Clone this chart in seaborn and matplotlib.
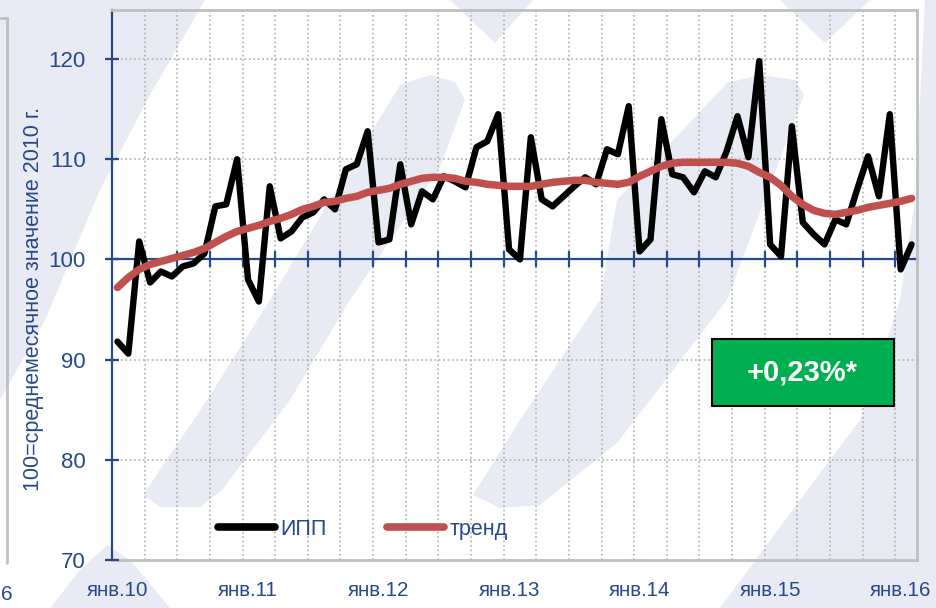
import numpy as np
import pandas as pd
import matplotlib
matplotlib.use('Agg')
import matplotlib.pyplot as plt
import seaborn as sns
from matplotlib.patches import Polygon, Rectangle
from matplotlib.lines import Line2D

# monthly data, Jan 2010 .. Feb 2016
ipp = [91.8, 90.6, 101.8, 97.7, 98.8, 98.3, 99.3, 99.6, 100.6, 105.3, 105.5, 110.0,
       98.0, 95.8, 107.3, 102.1, 102.8, 104.2, 104.7, 106.0, 105.0, 109.0, 109.5, 112.8,
       101.7, 102.0, 109.5, 103.5, 106.8, 106.0, 108.3, 107.8, 107.2, 111.2, 111.8, 114.5,
       101.0, 100.0, 112.2, 106.0, 105.3, 106.3, 107.3, 108.2, 107.5, 111.0, 110.5, 115.3,
       100.8, 102.0, 114.0, 108.5, 108.2, 106.7, 108.8, 108.2, 110.8, 114.3, 110.2, 119.8,
       101.5, 100.3, 113.3, 103.7, 102.5, 101.5, 104.0, 103.5, 107.0, 110.3, 106.3, 114.5,
       99.0, 101.5]
trend = [97.2, 98.2, 99.0, 99.5, 99.8, 100.1, 100.4, 100.7, 101.1, 101.7, 102.3, 102.8,
         103.1, 103.4, 103.8, 104.1, 104.5, 105.0, 105.3, 105.7, 105.8, 106.1, 106.3, 106.7,
         106.9, 107.1, 107.5, 107.8, 108.1, 108.2, 108.2, 108.1, 107.8, 107.7, 107.5, 107.4,
         107.3, 107.3, 107.3, 107.5, 107.7, 107.8, 107.9, 107.9, 107.7, 107.6, 107.5, 107.7,
         108.3, 108.8, 109.3, 109.6, 109.7, 109.7, 109.7, 109.7, 109.7, 109.6, 109.3, 108.7,
         108.2, 107.4, 106.3, 105.5, 104.9, 104.6, 104.5, 104.7, 104.9, 105.2, 105.4, 105.6,
         105.8, 106.1]
year_labels = ['янв.10', 'янв.11', 'янв.12', 'янв.13', 'янв.14', 'янв.15', 'янв.16']
y_ticks = [70, 80, 90, 100, 110, 120]

BLUE = '#26498a'
RED = '#c0504d'
GREEN = '#00b050'
GRID = '#b0b0b0'
FRAME = '#c0c0c0'
LAV = '#e8ebf4'

sns.set_theme(style='white')
plt.rcParams['font.family'] = ['Liberation Sans', 'DejaVu Sans']

W, H = 937, 608
fig = plt.figure(figsize=(W / 100, H / 100), dpi=100, facecolor='white')


def px(pts):
    return [(x / W, 1 - y / H) for x, y in pts]


# watermark shapes in the background
shapes = [
    [(0, 0), (205, 0), (150, 95), (100, 190), (45, 320), (0, 400)],
    [(143, 495), (160, 507), (200, 507), (222, 490), (290, 400), (350, 300), (440, 167),
     (465, 100), (455, 82), (430, 75), (400, 85), (350, 167), (270, 300), (207, 400)],
    [(473, 495), (500, 508), (540, 505), (617, 443), (727, 300), (804, 95), (795, 80),
     (760, 75), (727, 83), (617, 200), (600, 300), (520, 420)],
    [(937, 0), (925, 0), (915, 200), (900, 300), (860, 420), (800, 500), (720, 608), (937, 608)],
    [(450, 0), (533, 0), (495, 43)],
    [(780, 0), (870, 0), (825, 43)],
    [(50, 608), (80, 570), (107, 545), (130, 560), (170, 608)],
]
for s in shapes:
    fig.patches.append(Polygon(px(s), closed=True, transform=fig.transFigure,
                               facecolor=LAV, edgecolor='none', zorder=-5))

# remnant of neighbouring chart at the left edge
fig.add_artist(Line2D([7 / W, 7 / W], [1 - 18 / H, 1 - 563 / H], transform=fig.transFigure,
                      color=FRAME, lw=2))
fig.add_artist(Line2D([0, 7 / W], [1 - 18 / H, 1 - 18 / H], transform=fig.transFigure,
                      color=FRAME, lw=2))
fig.text(1 / W, 1 - 594 / H, '6', fontsize=15, color=BLUE, ha='left', va='center')

ax = fig.add_axes([112 / W, 1 - 560 / H, 805 / W, 550 / H])
ax.set_facecolor('none')

months = np.arange(len(ipp))
quarters = np.arange(2.5, len(ipp) - 1, 3)
df = pd.DataFrame({'month': months, 'ИПП': ipp, 'тренд': trend})

sns.lineplot(data=df, x='month', y='ИПП', color='black', lw=4.6, ax=ax, label='ИПП')
sns.lineplot(data=df, x='month', y='тренд', color=RED, lw=5.4, ax=ax, label='тренд',
             solid_capstyle='round')

ax.set_xlim(-0.5, len(ipp) - 0.5)
ax.set_ylim(70, 124.9)
ax.set_xlabel('')
ax.set_ylabel('')

# x axis: year labels at bottom, gridlines every quarter
ax.set_xticks(np.arange(0, len(ipp), 12))
ax.set_xticklabels(year_labels)
ax.set_xticks(quarters, minor=True)
ax.tick_params(axis='x', which='both', length=0, pad=15, labelsize=14.8, labelcolor=BLUE)
ax.grid(False)
ax.grid(which='minor', axis='x', ls=':', lw=1.2, color=GRID)

ax.set_yticks(y_ticks)
ax.tick_params(axis='y', which='major', direction='inout', length=10, width=1.5, color=BLUE,
               labelsize=16, labelcolor=BLUE, pad=14, left=True)
ax.grid(which='major', axis='y', ls=':', lw=1.2, color=GRID)

for side in ['top', 'right', 'bottom']:
    ax.spines[side].set_color(FRAME)
    ax.spines[side].set_linewidth(2)
ax.spines['left'].set_color(BLUE)
ax.spines['left'].set_linewidth(1.6)

# horizontal axis crossing at 100, with quarter tick marks
ax.axhline(100, color=BLUE, lw=1.6, zorder=1.8)
ax.plot(quarters, np.full(len(quarters), 100.0), ls='none', marker='|', ms=11, mew=1.6,
        color=BLUE, zorder=1.8)
# tick marks on the value axis
ax.plot(np.full(len(y_ticks), -0.5), y_ticks, ls='none', marker='_', ms=10, mew=1.6,
        color=BLUE, zorder=3, clip_on=False)

handles, labels = ax.get_legend_handles_labels()
leg = ax.legend(handles[:2], labels[:2], loc='center left', bbox_to_anchor=(0.1317, 0.056),
                ncol=2, frameon=False, fontsize=15.5, handlelength=2.65, handletextpad=0.25,
                columnspacing=2.8, borderpad=0, borderaxespad=0)
for line in leg.get_lines():
    line.set_linewidth(5.5)
for t in leg.get_texts():
    t.set_color(BLUE)

# green annotation box
ax.add_patch(Rectangle((0.7453, 0.28), 0.2261, 0.1218, transform=ax.transAxes,
                       facecolor=GREEN, edgecolor='black', lw=1.5, zorder=5))
ax.text(0.858, 0.341, '+0,23%*', transform=ax.transAxes, ha='center', va='center',
        fontsize=21, fontweight='bold', color='white', zorder=6)

fig.text(34 / W, 1 - 299 / H, '100=среднемесячное значение 2010 г.', rotation=90,
         ha='center', va='center', fontsize=15.5, color=BLUE)

fig.savefig('out.png', dpi=100)
